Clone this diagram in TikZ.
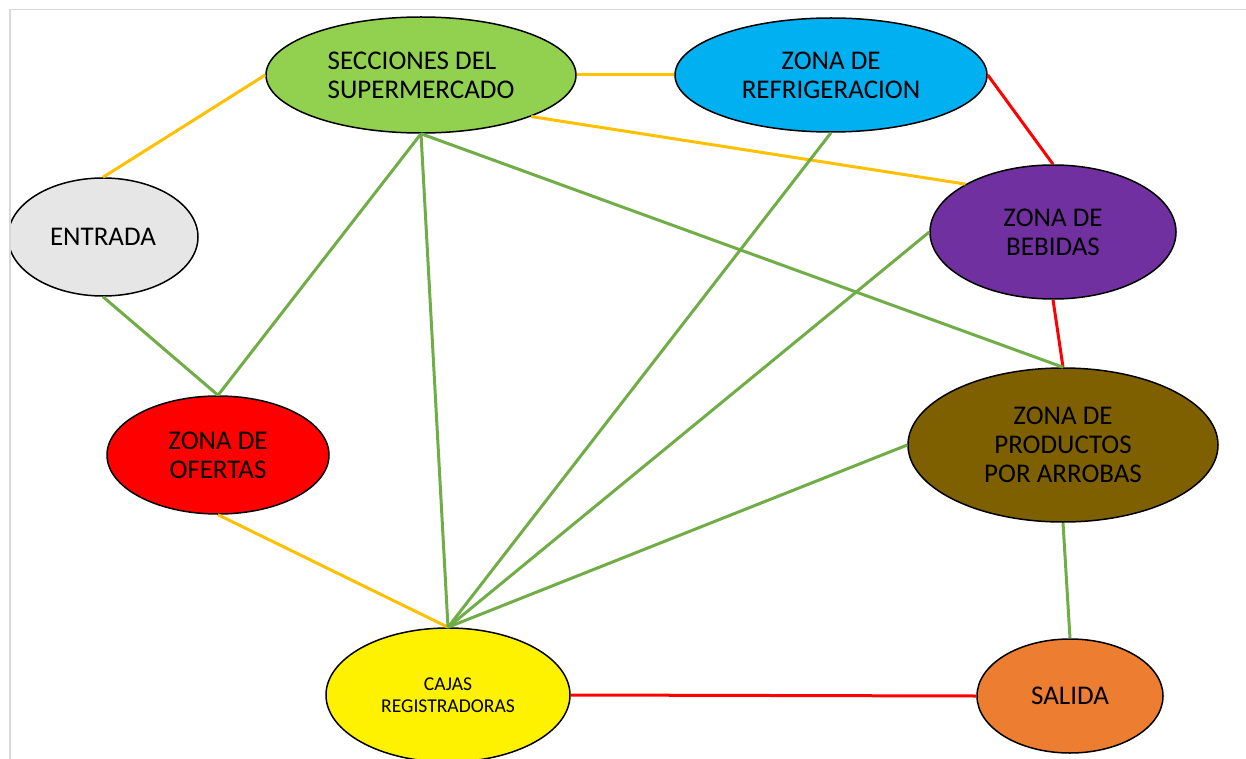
\documentclass[tikz,border=0pt]{standalone}
\usepackage{fontspec}
\setmainfont{Carlito}
\usetikzlibrary{shapes.geometric}
\definecolor{verdeclaro}{HTML}{92D050}
\definecolor{celeste}{HTML}{00B0F0}
\definecolor{grisclaro}{HTML}{E6E6E6}
\definecolor{morado}{HTML}{7030A0}
\definecolor{cafe}{HTML}{7F6000}
\definecolor{naranja}{HTML}{ED7D31}
\definecolor{ambar}{HTML}{FFC000}
\definecolor{verdelinea}{HTML}{70AD47}
\definecolor{marco}{HTML}{D9D9D9}
\begin{document}
\begin{tikzpicture}[x=0.5pt,y=-0.5pt,
    zona/.style={ellipse,draw=black,line width=0.75pt,inner sep=0pt,align=center,
      font=\fontsize{13.5}{14.5}\selectfont,text=black},
    amarilla/.style={draw=ambar,line width=1.5pt},
    verde/.style={draw=verdelinea,line width=1.5pt},
    roja/.style={draw=red,line width=1.5pt}]
    \useasboundingbox (0,0) rectangle (1246,759);
    \begin{scope}
        \clip (10,9.5) rectangle (1246,759);
        % zonas
        \node[zona,fill=verdeclaro,minimum width=155pt,minimum height=58pt,align=left] (sec) at (421,75) {SECCIONES DEL\\SUPERMERCADO};
        \node[zona,fill=celeste,minimum width=156pt,minimum height=57pt] (ref) at (831,75) {ZONA DE\\REFRIGERACION};
        \node[zona,fill=grisclaro,minimum width=95pt,minimum height=59pt] (ent) at (103,237) {ENTRADA};
        \node[zona,fill=morado,minimum width=123pt,minimum height=67pt] (beb) at (1053,232) {ZONA DE\\BEBIDAS};
        \node[zona,fill=red,minimum width=111pt,minimum height=59pt] (ofe) at (218,455) {ZONA DE\\OFERTAS};
        \node[zona,fill=cafe,minimum width=155pt,minimum height=77pt] (pro) at (1063,445) {ZONA DE\\PRODUCTOS\\POR ARROBAS};
        \node[zona,fill=yellow,minimum width=122pt,minimum height=67pt,
          font=\fontsize{9.8}{11}\selectfont] (caj) at (448,695) {CAJAS\\REGISTRADORAS};
        \node[zona,fill=naranja,minimum width=93pt,minimum height=57pt] (sal) at (1070,696) {SALIDA};

        % conexiones
        \draw[amarilla] (ent.north) -- (sec.west);
        \draw[amarilla] (sec.east) -- (ref.west);
        \draw[amarilla] (sec.south east) -- (beb.north west);
        \draw[amarilla] (ofe.south) -- (caj.north);
        \draw[roja] (ref.east) -- (beb.north);
        \draw[roja] (beb.south) -- (pro.north);
        \draw[roja] (caj.east) -- (sal.west);
        \draw[verde] (ent.south) -- (ofe.north);
        \draw[verde] (sec.south) -- (ofe.north);
        \draw[verde] (sec.south) -- (caj.north);
        \draw[verde] (sec.south) -- (pro.north);
        \draw[verde] (ref.south) -- (caj.north);
        \draw[verde] (beb.west) -- (caj.north);
        \draw[verde] (pro.west) -- (caj.north);
        \draw[verde] (pro.south) -- (sal.north);
    \end{scope}
    % marco
    \draw[marco,line width=0.75pt] (10,759) -- (10,9.5) -- (1246,9.5);
\end{tikzpicture}
\end{document}
